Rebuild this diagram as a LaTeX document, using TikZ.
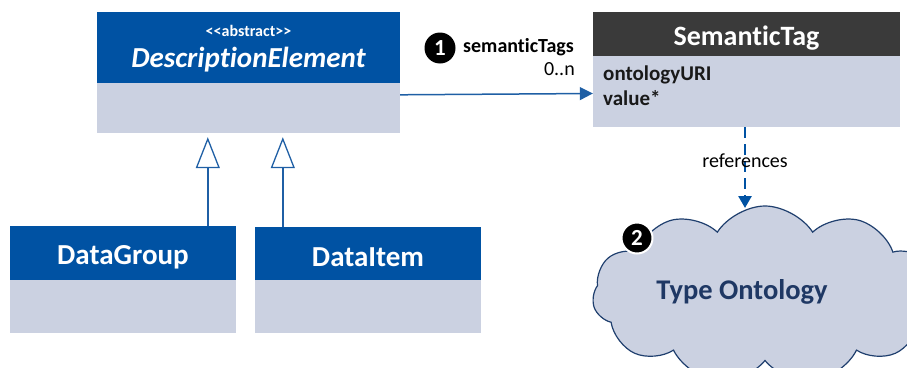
\documentclass[tikz,border=0pt]{standalone}
\usepackage{fontspec}
\setmainfont{Carlito}[Ligatures=NoCommon]
% plain family without TeX character mappings, so << stays as typed
\newfontfamily\stereofont{Carlito}
\usetikzlibrary{arrows.meta,shapes.symbols}

\definecolor{umlblue}{HTML}{0052A3}
\definecolor{umlbody}{HTML}{CBD1E1}
\definecolor{umldark}{HTML}{3A3A3A}
\definecolor{linkblue}{HTML}{1F5FA5}
\definecolor{navy}{HTML}{1F3864}
\definecolor{cloudline}{HTML}{1F3F6E}

\tikzset{
  head/.style={rectangle, fill=umlblue, inner sep=0pt, minimum width=#1},
  darkhead/.style={rectangle, fill=umldark, inner sep=0pt, minimum width=#1},
  body/.style={rectangle, fill=umlbody, inner sep=0pt, minimum width=#1},
  classname/.style={text=white, font=\fontsize{29}{34}\selectfont\bfseries},
  inherit/.style={draw=linkblue, line width=1.4pt,
    -{Triangle[open, width=24pt, length=31pt, line width=1.3pt]},
    shorten >=4pt},
  assoc/.style={draw=linkblue, line width=1.5pt,
    -{Triangle[width=13pt, length=13pt]}},
  refline/.style={draw=umlblue, line width=2.6pt, dash pattern=on 11pt off 6pt,
    -{Triangle[width=13pt, length=12pt]}},
  badge/.style={circle, fill=black, text=white, inner sep=0pt, minimum size=31pt,
    font=\fontsize{23}{26}\selectfont\bfseries},
  plain/.style={font=\fontsize{20}{24}\selectfont, inner sep=0pt},
}

\begin{document}
\begin{tikzpicture}[x=1pt, y=-1pt]
\useasboundingbox (0,0) rectangle (907,367);

% cloud for the type ontology (drawn first so it sits behind everything)
\node[cloud, cloud puffs=11, cloud puff arc=115, aspect=2,
      minimum width=345pt, minimum height=178pt,
      fill=umlbody, draw=cloudline, line width=1.2pt] (cloud) at (765,295) {};
\node[font=\fontsize{28.5}{34}\selectfont\bfseries, text=navy] (cloud-text) at (742,292) {Type Ontology};
\node[badge, draw=white, line width=2pt] (badge2) at (637,238) {2};

% abstract base class
\node[head=303pt, minimum height=71pt] (de-head) at (248.5,47.5) {};
\node[body=303pt, minimum height=50pt] (de-body) at (248.5,108) {};
\node[text=white, font=\stereofont\fontsize{16}{18}\selectfont\bfseries] (de-stereo) at (248.5,31)
      {<<abstract>>};
\node[classname, font=\fontsize{29}{34}\selectfont\bfseries\itshape] (de-name) at (248.5,60) {DescriptionElement};

% subclasses
\node[head=226pt, minimum height=54pt] (dg-head) at (123,253) {};
\node[body=226pt, minimum height=53pt] (dg-body) at (123,306.5) {};
\node[classname] (dg-name) at (123,257) {DataGroup};

\node[head=226pt, minimum height=53pt] (di-head) at (368,253.5) {};
\node[body=226pt, minimum height=53pt] (di-body) at (368,306.5) {};
\node[classname] (di-name) at (368,257) {DataItem};

% semantic tag class
\node[darkhead=307pt, minimum height=44pt] (st-head) at (746.5,34) {};
\node[body=307pt, minimum height=71pt] (st-body) at (746.5,91.5) {};
\node[classname, font=\fontsize{28}{33}\selectfont\bfseries] (st-name) at (746.5,38) {SemanticTag};
\node[font=\fontsize{21}{25}\selectfont\bfseries, text=black!90, anchor=base west,
      align=left, inner sep=0pt] (st-attr1) at (603,80) {ontologyURI};
\node[font=\fontsize{21}{25}\selectfont\bfseries, text=black!90, anchor=base west,
      align=left, inner sep=0pt] (st-attr2) at (603,105) {value*};

% generalisations
\draw[inherit] ([xshift=198pt]dg-head.north west) -- ([xshift=111pt]de-body.south west);
\draw[inherit] ([xshift=28pt]di-head.north west) -- ([xshift=186pt]de-body.south west);

% association to semantic tags
\draw[assoc] ([yshift=-12pt]de-body.north east) -- ([yshift=-2pt]st-body.west);
\node[badge] (badge1) at (440,48) {1};
\node[plain, font=\fontsize{20}{24}\selectfont\bfseries, anchor=base west] (role) at (463,52) {semanticTags};
\node[plain, anchor=base east] (mult) at (575,75) {0..n};

% reference from semantic tag to ontology
\draw[refline] ([xshift=-1.5pt]st-body.south) -- ([xshift=-1.5pt]st-body.south |- 0,208);
\node[plain] (reflabel) at (745,161) {references};
\end{tikzpicture}
\end{document}
